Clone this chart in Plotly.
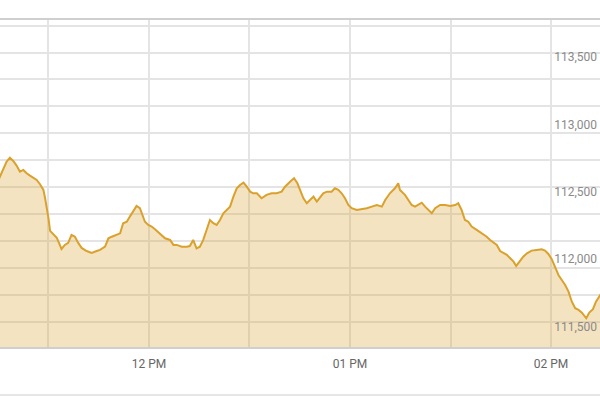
import plotly.graph_objects as go

DAY = "2024-01-15"

times = [
    "11:15:00", "11:15:30", "11:16:30", "11:17:30", "11:18:30", "11:19:30", "11:20:30", "11:21:30",
    "11:22:30", "11:23:30", "11:24:30", "11:25:30", "11:26:30", "11:27:30", "11:28:30",
    "11:29:00", "11:29:30", "11:30:00", "11:30:30", "11:31:18", "11:32:30", "11:33:24",
    "11:33:54", "11:34:54", "11:35:54", "11:36:54", "11:37:54", "11:38:54", "11:39:54",
    "11:41:24", "11:42:54", "11:44:24", "11:45:24", "11:46:54", "11:47:54", "11:48:54",
    "11:50:24", "11:51:24", "11:52:18", "11:53:24", "11:54:18", "11:55:18", "11:56:18",
    "11:57:18", "11:58:06", "11:58:48", "11:59:48", "12:00:48", "12:01:48", "12:03:18",
    "12:04:48", "12:06:18", "12:07:18", "12:08:18", "12:09:48", "12:11:18", "12:12:12",
    "12:13:12", "12:14:12", "12:15:12", "12:16:12", "12:17:12", "12:18:12", "12:19:12",
    "12:20:12", "12:21:12", "12:22:12", "12:23:12", "12:24:12", "12:25:12", "12:26:12",
    "12:27:12", "12:28:12", "12:29:12", "12:30:12", "12:31:06", "12:32:12", "12:33:36",
    "12:35:06", "12:36:36", "12:38:06", "12:39:36", "12:40:36", "12:42:06", "12:43:18",
    "12:44:18", "12:45:06", "12:46:06", "12:47:06", "12:48:06", "12:49:06", "12:50:06",
    "12:51:06", "12:52:00", "12:53:06", "12:54:30", "12:55:30", "12:56:30", "12:57:30",
    "12:58:30", "12:59:30", "13:00:30", "13:02:00", "13:03:30", "13:05:00", "13:06:30",
    "13:08:00", "13:09:30", "13:10:30", "13:11:54", "13:13:24", "13:14:24", "13:14:54",
    "13:16:24", "13:17:24", "13:18:24", "13:19:24", "13:20:24", "13:21:24", "13:22:24",
    "13:23:24", "13:24:24", "13:25:24", "13:26:54", "13:28:24", "13:29:54", "13:31:24",
    "13:32:18", "13:33:18", "13:34:18", "13:35:18", "13:36:18", "13:37:48", "13:39:18",
    "13:40:48", "13:41:48", "13:42:48", "13:43:48", "13:44:48", "13:45:48", "13:46:48",
    "13:47:48", "13:48:48", "13:49:36", "13:50:30", "13:51:42", "13:52:48", "13:54:12",
    "13:55:42", "13:57:12", "13:58:12", "13:59:12", "14:00:12", "14:01:12", "14:02:12",
    "14:03:12", "14:04:12", "14:05:12", "14:06:12", "14:07:12", "14:08:12", "14:09:12",
    "14:10:30", "14:11:24", "14:12:30", "14:13:24", "14:14:24", "14:15:00",
]

index_values = [
    112650, 112677, 112744, 112790, 112820, 112796, 112761, 112716,
    112729, 112704, 112687, 112672, 112655, 112623, 112581,
    112521, 112457, 112373, 112277, 112254, 112225, 112173,
    112143, 112173, 112188, 112247, 112234, 112188, 112151,
    112128, 112113, 112128, 112136, 112160, 112222, 112234,
    112247, 112259, 112334, 112345, 112383, 112420, 112462,
    112445, 112395, 112345, 112321, 112309, 112289, 112259,
    112222, 112210, 112173, 112173, 112160, 112160, 112165,
    112210, 112148, 112160, 112210, 112284, 112358, 112334,
    112321, 112358, 112408, 112432, 112457, 112531, 112593,
    112618, 112635, 112605, 112568, 112556, 112556, 112519,
    112544, 112556, 112556, 112568, 112605, 112642, 112667,
    112630, 112581, 112519, 112482, 112506, 112531, 112494,
    112531, 112556, 112568, 112568, 112593, 112581, 112556,
    112519, 112469, 112445, 112432, 112437, 112445, 112457,
    112469, 112457, 112506, 112556, 112593, 112630, 112581,
    112544, 112506, 112469, 112457, 112469, 112486, 112457,
    112432, 112408, 112445, 112469, 112469, 112462, 112469,
    112482, 112432, 112358, 112345, 112309, 112284, 112259,
    112234, 112210, 112190, 112173, 112128, 112111, 112099,
    112074, 112049, 112017, 112049, 112086, 112111, 112131,
    112136, 112141, 112131, 112106, 112067, 112012, 111950,
    111913, 111876, 111827, 111752, 111704, 111691, 111671,
    111629, 111671, 111696, 111752, 111790, 111815,
]

x_grid_times = ["11:30", "12:00", "12:30", "13:00", "13:30", "14:00"]
x_grid_labels = ["", "12 PM", "", "01 PM", "", "02 PM"]
y_grid_values = [111400, 111600, 111800, 112000, 112200, 112400, 112600,
                 112800, 113000, 113200, 113400, 113600, 113800]
y_label_values = [111500, 112000, 112500, 113000, 113500]
y_label_texts = ["111,500", "112,000", "112,500", "113,000", "113,500"]

x_range = ["11:15:33", "14:14:36"]
y_range = [111416, 113841]

xs = [f"{DAY} {t}" for t in times]

fig = go.Figure()
fig.add_trace(go.Scatter(
    x=xs, y=index_values, mode="lines",
    line=dict(color="#daa12c", width=2),
    fill="tozeroy", fillcolor="rgba(219,161,47,0.3)",
    hoverinfo="skip", showlegend=False,
))
# invisible trace to activate the label axis
fig.add_trace(go.Scatter(x=[xs[0]], y=[index_values[0]], yaxis="y2",
                         mode="markers", marker=dict(opacity=0),
                         hoverinfo="skip", showlegend=False))

grid_color = "#e4e4e4"
fig.update_layout(
    width=600, height=400,
    margin=dict(l=0, r=0, t=20, b=53, autoexpand=False),
    paper_bgcolor="white", plot_bgcolor="white",
    font=dict(family="Roboto, Arial, sans-serif"),
    xaxis=dict(
        type="date",
        range=[f"{DAY} {x_range[0]}", f"{DAY} {x_range[1]}"],
        tickmode="array",
        tickvals=[f"{DAY} {t}" for t in x_grid_times],
        ticktext=x_grid_labels,
        showgrid=True, gridcolor=grid_color, gridwidth=1.5,
        ticks="", ticklabelstandoff=5,
        tickfont=dict(size=12, color="#666666"),
        showline=True, linecolor="#cfcfcf", linewidth=2, mirror=True,
        zeroline=False, fixedrange=True,
    ),
    yaxis=dict(
        range=y_range,
        tickmode="array", tickvals=y_grid_values,
        showticklabels=False,
        showgrid=True, gridcolor=grid_color, gridwidth=1.5,
        ticks="", zeroline=False, showline=False, fixedrange=True,
    ),
    yaxis2=dict(
        overlaying="y", side="right", anchor="x",
        range=y_range,
        tickmode="array", tickvals=y_label_values, ticktext=y_label_texts,
        ticklabelposition="inside", ticklabelshift=-9, ticklabelstandoff=0,
        tickfont=dict(size=12, color="#8a8a8a"),
        showgrid=False, ticks="", zeroline=False, showline=False,
        fixedrange=True,
    ),
    shapes=[dict(type="line", xref="paper", yref="paper",
                 x0=0, x1=1, y0=-0.147, y1=-0.147,
                 line=dict(color="#e6e6e6", width=2))],
)

fig.write_html(
    "out.html",
    config={"displayModeBar": False},
    post_script="document.body.style.margin='0';document.body.style.overflow='hidden';",
)
